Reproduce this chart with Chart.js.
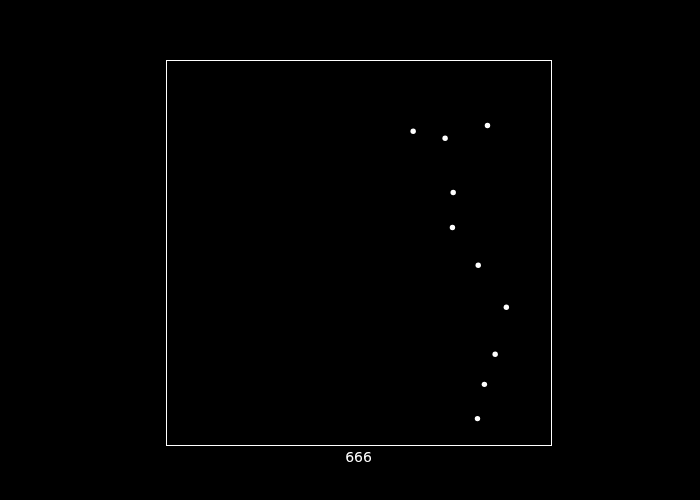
<!DOCTYPE html>
<html>
<head>
<meta charset="utf-8">
<script src="https://cdn.jsdelivr.net/npm/chart.js@4"></script>
<style>
    html, body { margin: 0; padding: 0; background: #000; }
    #holder { width: 700px; height: 500px; }
</style>
</head>
<body>
<div id="holder"><canvas id="chart-area"></canvas></div>
<script>
// values, as fractions of the axis range
var xValues = [0.642, 0.725, 0.835, 0.746, 0.744, 0.811, 0.884, 0.855, 0.827, 0.809];
var yValues = [0.815, 0.797, 0.830, 0.656, 0.565, 0.467, 0.358, 0.236, 0.158, 0.069];
var xTitle = '666';

var points = xValues.map(function (x, i) {
    return {x: x, y: yValues[i]};
});

// white frame round the plot area
var frame = {
    id: 'frame',
    afterDraw: function (chart) {
        var a = chart.chartArea, ctx = chart.ctx;
        ctx.save();
        ctx.strokeStyle = '#fff';
        ctx.lineWidth = 1;
        ctx.strokeRect(Math.round(a.left) + 0.5, Math.round(a.top) + 0.5,
            Math.round(a.right - a.left), Math.round(a.bottom - a.top));
        ctx.restore();
    }
};

var config = {
    type: 'scatter',
    data: {
        datasets: [{
            data: points,
            backgroundColor: '#fff',
            borderWidth: 0,
            pointRadius: 2.7
        }]
    },
    options: {
        responsive: true,
        maintainAspectRatio: false,
        animation: false,
        layout: {padding: {left: 166, right: 149, top: 60, bottom: 30}},
        plugins: {legend: {display: false}, tooltip: {enabled: false}},
        scales: {
            x: {
                min: 0, max: 1,
                ticks: {display: false},
                grid: {display: false, drawTicks: false},
                border: {display: false},
                title: {display: true, text: xTitle, color: '#fff',
                    font: {family: 'DejaVu Sans', size: 14},
                    padding: {top: 5, bottom: 3}}
            },
            y: {min: 0, max: 1, display: false}
        }
    },
    plugins: [frame]
};

var ctx = document.getElementById('chart-area').getContext('2d');
new Chart(ctx, config);
</script>
</body>
</html>
